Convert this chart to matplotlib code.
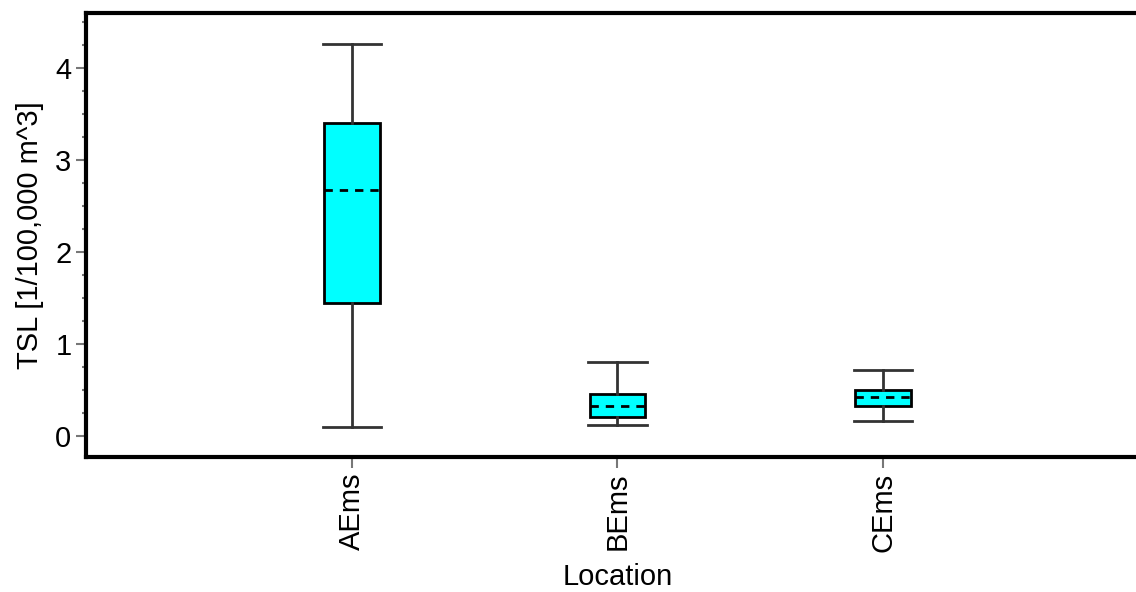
import matplotlib.pyplot as plt
from matplotlib.ticker import MultipleLocator

plt.rcParams['font.family'] = ['Liberation Sans', 'DejaVu Sans']

# box statistics
locations = ["AEms", "BEms", "CEms"]
whisker_low = [0.10, 0.12, 0.16]
q1 = [1.45, 0.20, 0.33]
median = [2.68, 0.33, 0.42]
q3 = [3.40, 0.46, 0.50]
whisker_high = [4.26, 0.80, 0.72]

stats = []
for i, name in enumerate(locations):
    stats.append({
        "label": name,
        "whislo": whisker_low[i],
        "q1": q1[i],
        "med": median[i],
        "q3": q3[i],
        "whishi": whisker_high[i],
        "fliers": [],
    })

fig = plt.figure(figsize=(11.36, 5.92), dpi=100)
ax = fig.add_axes([0.0757, 0.228, 0.9357, 0.750])

ax.bxp(
    stats,
    positions=[1, 2, 3],
    widths=0.21,
    patch_artist=True,
    showfliers=False,
    boxprops=dict(facecolor="#00ffff", edgecolor="black", linewidth=2),
    medianprops=dict(color="black", linestyle=(0, (3, 2.5)), linewidth=2),
    whiskerprops=dict(color="#333333", linewidth=2),
    capprops=dict(color="#333333", linewidth=2),
    capwidths=0.22,
)

ax.set_xlim(0, 4)
ax.set_ylim(-0.23, 4.6)
ax.set_xticks([1, 2, 3])
ax.set_xticklabels(locations, rotation=90, fontsize=21)
ax.yaxis.set_major_locator(MultipleLocator(1))
ax.yaxis.set_minor_locator(MultipleLocator(0.25))
ax.tick_params(axis="y", which="major", length=7, width=1.5, color="#777777", labelsize=21)
ax.tick_params(axis="y", which="minor", length=3, width=1.5, color="#777777")
ax.tick_params(axis="x", which="major", length=8, width=1.5, color="#777777")

for side in ["left", "top", "bottom"]:
    ax.spines[side].set_linewidth(3)
ax.spines["right"].set_visible(False)

ax.set_xlabel("Location", fontsize=21, labelpad=8)
ax.set_ylabel("TSL [1/100,000 m^3]", fontsize=21, labelpad=8)

fig.savefig("out.png", dpi=100)
